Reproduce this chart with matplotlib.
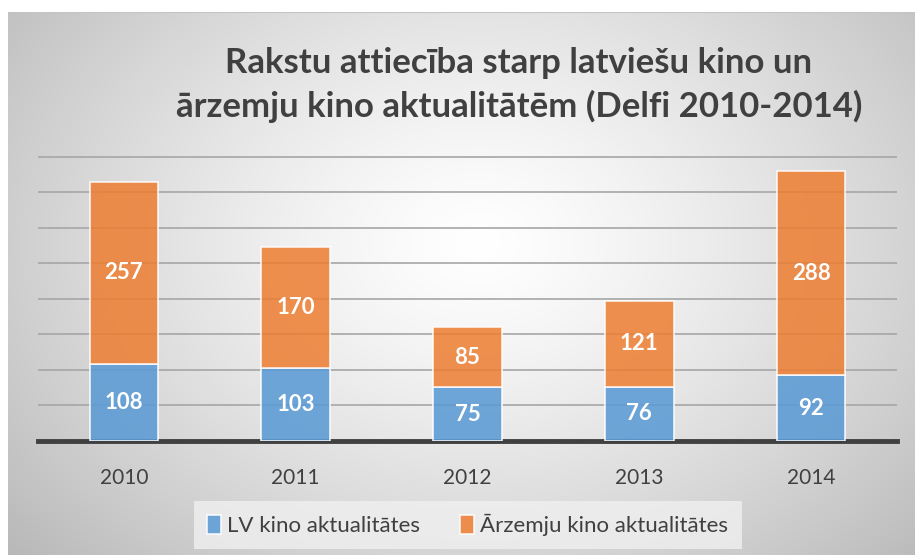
import numpy as np
import matplotlib.pyplot as plt

years = ["2010", "2011", "2012", "2013", "2014"]
lv_news = [108, 103, 75, 76, 92]
foreign_news = [257, 170, 85, 121, 288]

title = "Rakstu attiecība starp latviešu kino un\nārzemju kino aktualitātēm (Delfi 2010-2014)"
lv_label = "LV kino aktualitātes"
foreign_label = "Ārzemju kino aktualitātes"

W, H = 915, 555
plt.rcParams["font.family"] = ["Lato", "DejaVu Sans"]

fig = plt.figure(figsize=(W / 100, H / 100), dpi=100)
fig.patch.set_facecolor("white")

# grey radial gradient panel behind the chart
bg = fig.add_axes([8 / W, 0, 1 - 8 / W, 1 - 12 / H], zorder=-10)
gx, gy = np.meshgrid(np.arange(W - 8), np.arange(H - 12))
r = np.sqrt(((gx - 470) / 560) ** 2 + ((gy - 230) / 420) ** 2)
shade = 1 - 0.24 * np.clip(r, 0, 1.2) ** 1.3
bg.imshow(np.dstack([shade] * 3), aspect="auto", extent=[0, 1, 0, 1], origin="upper")
bg.plot([0, 1], [1, 1], color="#c4c4c4", lw=1.5, transform=bg.transAxes)
bg.axis("off")

ax = fig.add_axes([38 / W, 1 - 440.7 / H, (897 - 38) / W, (440.7 - 156) / H])
ax.patch.set_alpha(0)

x = np.arange(len(years))
bar_kw = dict(width=0.4, edgecolor=(1, 1, 1, 0.55), linewidth=1.2, zorder=3)
b1 = ax.bar(x, lv_news, color="#5b9bd5", alpha=0.88, label=lv_label, **bar_kw)
b2 = ax.bar(x, foreign_news, bottom=lv_news, color="#ed7d31", alpha=0.85,
            label=foreign_label, **bar_kw)

for i in range(len(years)):
    ax.text(x[i], lv_news[i] / 2, str(lv_news[i]), ha="center", va="center",
            color="white", fontsize=16, fontweight="bold", zorder=4)
    ax.text(x[i], lv_news[i] + foreign_news[i] / 2, str(foreign_news[i]),
            ha="center", va="center", color="white", fontsize=16,
            fontweight="bold", zorder=4)

ax.set_xlim(-0.5, len(years) - 0.5)
ax.set_ylim(0, 401)
ax.set_yticks(np.arange(50, 401, 50))
ax.yaxis.grid(True, color="#a6a6a6", linewidth=1.2, zorder=0)
ax.set_axisbelow(True)
ax.tick_params(axis="y", left=False, labelleft=False)
ax.tick_params(axis="x", bottom=False, labelsize=15, labelcolor="#404040", pad=16)
ax.set_xticks(x)
ax.set_xticklabels(years)
for side in ["top", "right", "left"]:
    ax.spines[side].set_visible(False)
ax.spines["bottom"].set_color("#404040")
ax.spines["bottom"].set_linewidth(3.5)

fig.text(519 / W, 1 - 85 / H, title, ha="center", va="center", fontsize=25,
         fontweight="bold", color="#404040", linespacing=1.38)

leg = fig.legend(handles=[b1, b2], loc="center", bbox_to_anchor=(468 / W, 1 - 525 / H),
                 ncol=2, frameon=True, fontsize=16, handlelength=0.6,
                 handleheight=0.9, handletextpad=0.3, columnspacing=1.8,
                 borderpad=0.6, fancybox=False)
leg.get_frame().set_facecolor("#f0f0f0")
leg.get_frame().set_edgecolor("none")
leg.get_frame().set_alpha(0.8)
for t in leg.get_texts():
    t.set_color("#404040")

fig.savefig("out.png", dpi=100)
